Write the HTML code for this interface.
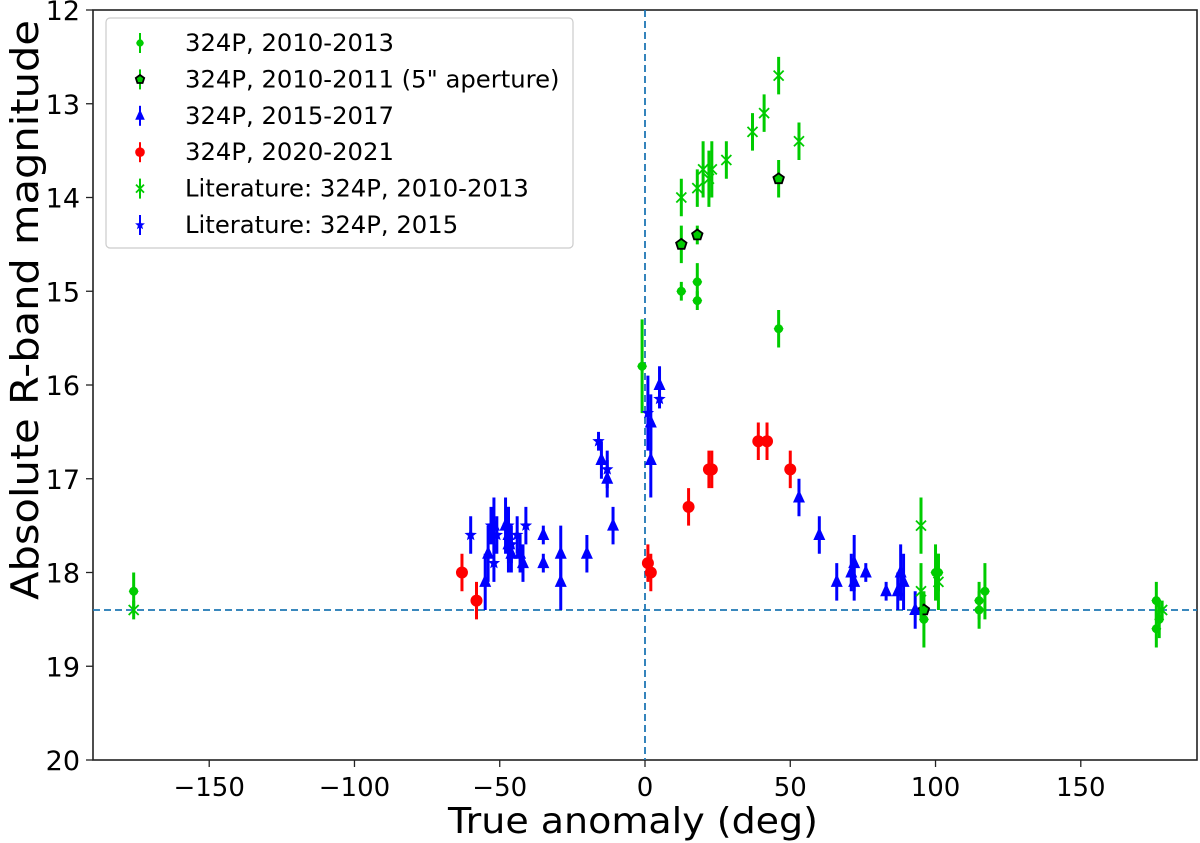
<!DOCTYPE html>
<html><head><meta charset="utf-8"><style>
body{margin:0;background:#fff}
svg{display:block;font-family:"DejaVu Sans","Liberation Sans",sans-serif}
</style></head><body>
<svg id="chart" width="1200" height="843" viewBox="0 0 1200 843"></svg>
<script>
const xTicks=[-150,-100,-50,0,50,100,150];
const yTicks=[12,13,14,15,16,17,18,19,20];
const green=[[-176,18.2,.2],[-1,15.8,.5],[12.5,15.0,.1],[18,14.9,.2],[18,15.1,.1],[46,15.4,.2],[96,18.5,.3],[100,18.0,.3],[101,18.0,.2],[115,18.3,.2],[115,18.4,.2],[117,18.2,.3],[176,18.3,.2],[176,18.6,.2],[177,18.5,.2]];
const greenAp=[[12.5,14.5,.2],[18,14.4,.1],[46,13.8,.2],[96,18.4,.1]];
const litGreen=[[-176,18.4,.1],[12.5,14.0,.2],[18,13.9,.2],[20,13.7,.3],[22,13.8,.3],[23,13.7,.3],[28,13.6,.2],[37,13.3,.2],[41,13.1,.2],[46,12.7,.2],[53,13.4,.2],[95,17.5,.3],[95,18.2,.3],[101,18.1,.3],[178,18.4,.1]];
const red=[[-63,18.0,.2],[-58,18.3,.2],[1,17.9,.2],[2,18.0,.2],[15,17.3,.2],[22,16.9,.2],[23,16.9,.2],[39,16.6,.2],[42,16.6,.2],[50,16.9,.2]];
const blueTri=[[-55,18.1,.3],[-54,17.8,.3],[-52,17.5,.3],[-48,17.5,.3],[-47,17.6,.3],[-47,17.7,.3],[-46,17.8,.2],[-43,17.8,.2],[-42,17.9,.2],[-35,17.6,.1],[-35,17.9,.1],[-29,18.1,.3],[-29,17.8,.3],[-20,17.8,.2],[-15,16.8,.2],[-13,17.0,.2],[-11,17.5,.2],[2,16.8,.4],[2,16.4,.3],[5,16.0,.2],[53,17.2,.2],[60,17.6,.2],[66,18.1,.2],[71,18.0,.2],[72,17.9,.3],[72,18.1,.2],[76,18.0,.1],[83,18.2,.1],[87,18.2,.2],[88,18.0,.3],[89,18.1,.3],[93,18.4,.2]];
const blueStar=[[-60,17.6,.2],[-53,17.5,.2],[-51,17.6,.2],[-47,17.5,.2],[-44,17.6,.2],[-41,17.5,.2],[-16,16.6,.1],[-13,16.9,.2],[1,16.3,.4],[5,16.15,.1],[-46,17.7,.2],[-52,17.9,.2]];
const legendLabels=['324P, 2010-2013','324P, 2010-2011 (5" aperture)','324P, 2015-2017','324P, 2020-2021','Literature: 324P, 2010-2013','Literature: 324P, 2015'];

const L=93,R=1197,T=10,B=760;
const sx=v=>645+v*(R-645)/190;
const sy=v=>T+(v-12)*(B-T)/8;
const svg=document.getElementById('chart');
const NS='http://www.w3.org/2000/svg';
function mk(tag,attrs,parent){const e=document.createElementNS(NS,tag);for(const k in attrs)e.setAttribute(k,attrs[k]);(parent||svg).appendChild(e);return e;}

const frame=mk('rect',{x:L,y:T,width:R-L,height:B-T,fill:'none',stroke:'#222','stroke-width':1.6});


xTicks.forEach(t=>{
  const tl=mk('line',{x1:sx(t),x2:sx(t),y1:B,y2:B+7,stroke:'#222','stroke-width':1.3});
  
  
  const tx=mk('text',{x:sx(t),y:B+36,'font-size':26,'text-anchor':'middle'});
  tx.textContent=(t<0?'\u2212':'')+Math.abs(t);
  
  
});
yTicks.forEach(t=>{
  const tl=mk('line',{x1:L-7,x2:L,y1:sy(t),y2:sy(t),stroke:'#222','stroke-width':1.3});
  
  
  const tx=mk('text',{x:L-13,y:sy(t)+10,'font-size':27,'text-anchor':'end'});
  tx.textContent=t;
  
  
});
const xt=mk('text',{x:633,y:833,'font-size':36,'text-anchor':'middle',textLength:370,lengthAdjust:'spacingAndGlyphs'});xt.textContent='True anomaly (deg)';


const yt=mk('text',{x:0,y:0,'font-size':38,'text-anchor':'middle',textLength:580,lengthAdjust:'spacingAndGlyphs',transform:'translate(38,310) rotate(-90)'});yt.textContent='Absolute R-band magnitude';



const hl=mk('line',{x1:L,x2:R,y1:sy(18.4),y2:sy(18.4),stroke:'#1f77b4','stroke-width':1.8,'stroke-dasharray':'7,4'});


const vl=mk('line',{x1:sx(0),x2:sx(0),y1:T,y2:B,stroke:'#1f77b4','stroke-width':1.8,'stroke-dasharray':'7,4'});



function marker(kind,cx,cy,color,g,s){
  s=s||1;
  if(kind==='dot'){mk('path',{d:`M${cx},${cy-6*s}L${cx+5*s},${cy}L${cx},${cy+6*s}L${cx-5*s},${cy}Z`,fill:color},g);mk('circle',{cx,cy,r:4.5*s,fill:color},g);}
  else if(kind==='circle')mk('circle',{cx,cy,r:6*s,fill:color},g);
  else if(kind==='pent'){let p=[];for(let i=0;i<5;i++){const a=-Math.PI/2+i*2*Math.PI/5;p.push((cx+5.5*s*Math.cos(a)).toFixed(1)+','+(cy+5.5*s*Math.sin(a)).toFixed(1));}mk('polygon',{points:p.join(' '),fill:color,stroke:'#000','stroke-width':1.8},g);}
  else if(kind==='tri')mk('polygon',{points:`${cx},${cy-8*s} ${cx+6*s},${cy+5*s} ${cx-6*s},${cy+5*s}`,fill:color},g);
  else if(kind==='x'){mk('path',{d:`M${cx-5*s},${cy-5*s}L${cx+5*s},${cy+5*s}M${cx-5*s},${cy+5*s}L${cx+5*s},${cy-5*s}`,stroke:color,'stroke-width':1.8},g);}
  else if(kind==='star'){let p=[];for(let i=0;i<10;i++){const a=-Math.PI/2+i*Math.PI/5,r=(i%2?2.8:6.5)*s;p.push((cx+r*Math.cos(a)).toFixed(1)+','+(cy+r*Math.sin(a)).toFixed(1));}mk('polygon',{points:p.join(' '),fill:color},g);}
}
function series(data,kind,color,name){
  const g=mk('g',{});
  
  
  data.forEach(d=>{
    const x=sx(d[0]);
    mk('line',{x1:x,x2:x,y1:sy(d[1]-d[2]),y2:sy(d[1]+d[2]),stroke:color,'stroke-width':3},g);
    marker(kind,x,sy(d[1]),color,g);
  });
}
series(green,'dot','#00cc00','series-324p-2010-2013');
series(greenAp,'pent','#00cc00','series-324p-2010-2011-aperture');
series(blueTri,'tri','#0000ff','series-324p-2015-2017');
series(red,'circle','#ff0000','series-324p-2020-2021');
series(litGreen,'x','#00cc00','series-literature-2010-2013');
series(blueStar,'star','#0000ff','series-literature-2015');

const lg=mk('g',{});


mk('rect',{x:106,y:18,width:467,height:230,rx:4,fill:'#fff',stroke:'#ccc','stroke-width':1.2},lg);
const kinds=['dot','pent','tri','circle','x','star'],cols=['#00cc00','#00cc00','#0000ff','#ff0000','#00cc00','#0000ff'];
legendLabels.forEach((lab,i)=>{
  const y=43+i*36.4;
  const e=mk('g',{},lg);
  
  
  mk('line',{x1:140,x2:140,y1:y-10,y2:y+10,stroke:cols[i],'stroke-width':2},e);
  marker(kinds[i],140,y,cols[i],e,0.8);
  const t=mk('text',{x:185,y:y+8,'font-size':24.3},e);t.textContent=lab;
});
</script>
</body></html>
